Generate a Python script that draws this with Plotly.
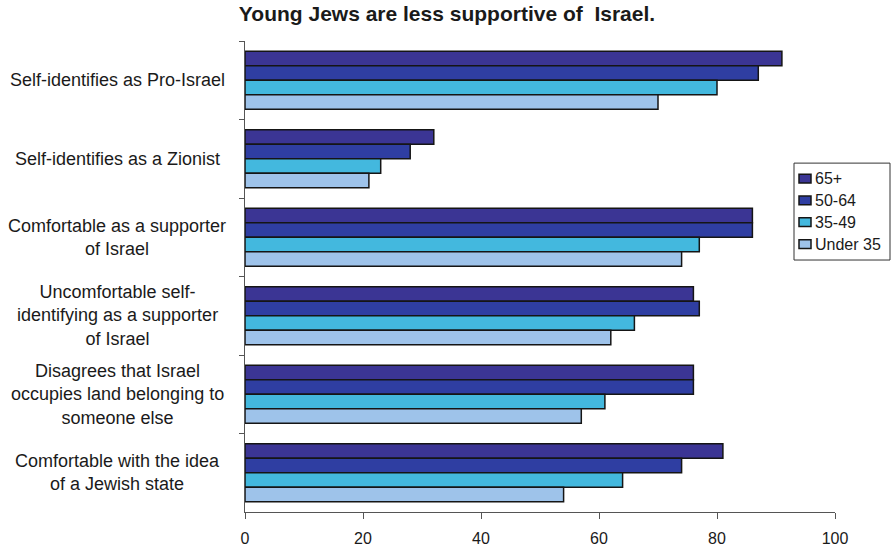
import plotly.graph_objects as go

# ---- data ----
categories = [
    "Self-identifies as Pro-Israel",
    "Self-identifies as a Zionist",
    "Comfortable as a supporter<br>of Israel",
    "Uncomfortable self-<br>identifying as a supporter<br>of Israel",
    "Disagrees that Israel<br>occupies land belonging to<br>someone else",
    "Comfortable with the idea<br>of a Jewish state",
]
series_names = ["65+", "50-64", "35-49", "Under 35"]
v_65plus = [91, 32, 86, 76, 76, 81]
v_50_64 = [87, 28, 86, 77, 76, 74]
v_35_49 = [80, 23, 77, 66, 61, 64]
v_under35 = [70, 21, 74, 62, 57, 54]
x_ticks = [0, 20, 40, 60, 80, 100]
title_text = "Young Jews are less supportive of  Israel."

series_values = [v_65plus, v_50_64, v_35_49, v_under35]
colors = ["#3b3594", "#2f3ea2", "#43b8de", "#9ec3ea"]

FONT = "Liberation Sans, Arial, Helvetica, sans-serif"

fig = go.Figure()
for name, vals, col in zip(series_names, series_values, colors):
    fig.add_trace(go.Bar(
        y=categories, x=vals, name=name, orientation="h",
        marker=dict(color=col, line=dict(color="#151515", width=1.5)),
        showlegend=False,
    ))

W, H = 893, 559
L, R, T, B = 245, 58, 41, 32
pw, ph = W - L - R, H - T - B
def px(xp):
    return (xp - L) / pw
def py(yp):
    return (H - B - yp) / ph

# category labels: centered at a fixed x, lines centered
for c in categories:
    fig.add_annotation(
        x=px(117), xref="paper", y=c, yref="y", text=c, showarrow=False,
        xanchor="center", yanchor="middle", align="center",
        font=dict(family=FONT, size=18, color="#1a1a1a"),
    )

# custom legend (box, swatches, labels)
fig.add_shape(type="rect", xref="paper", yref="paper",
              x0=px(794), x1=px(890), y0=py(167), y1=py(267),
              line=dict(color="#333333", width=1), fillcolor="white")
for i, (name, col) in enumerate(zip(series_names, colors)):
    yc = 183 + i * 22.5
    fig.add_shape(type="rect", xref="paper", yref="paper",
                  x0=px(799), x1=px(811), y0=py(yc - 4.5), y1=py(yc + 4.5),
                  line=dict(color="#151515", width=1.5), fillcolor=col)
    fig.add_annotation(x=px(813), y=py(yc), xref="paper", yref="paper",
                       text=name, showarrow=False, xanchor="left", yanchor="middle",
                       font=dict(family=FONT, size=16, color="#1a1a1a"))

fig.update_layout(
    width=W, height=H,
    margin=dict(l=L, r=R, t=T, b=B),
    paper_bgcolor="white", plot_bgcolor="white",
    barmode="group", bargap=0.26, bargroupgap=0,
    title=dict(text="<b>" + title_text + "</b>", x=447 / W, xref="container",
               y=1 - 14 / H, yref="container", xanchor="center", yanchor="middle",
               font=dict(family=FONT, size=21, color="#1a1a1a")),
    xaxis=dict(range=[0, 100], tickvals=x_ticks, ticktext=[str(t) for t in x_ticks],
               ticks="outside", ticklen=6, tickcolor="#555555", ticklabelstandoff=6,
               showline=True, linecolor="#555555", linewidth=1,
               showgrid=False, zeroline=False,
               tickfont=dict(family=FONT, size=16, color="#1a1a1a")),
    yaxis=dict(autorange="reversed", showticklabels=False,
               ticks="outside", ticklen=5, tickcolor="#555555", tickson="boundaries",
               showline=True, linecolor="#555555", linewidth=1,
               showgrid=False, zeroline=False),
)

fig.write_html("out.html", config={"displayModeBar": False},
               post_script="document.body.style.margin='0';document.body.style.overflow='hidden';")
